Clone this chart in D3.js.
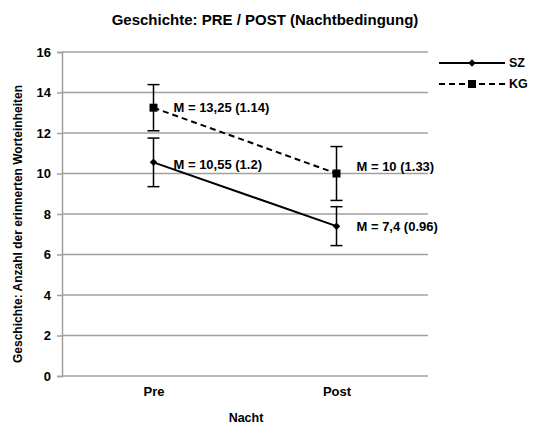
<!DOCTYPE html>
<html>
<head>
<meta charset="utf-8">
<script src="https://cdn.jsdelivr.net/npm/d3@7"></script>
<style>
  html, body { margin: 0; padding: 0; background: #fff; }
  svg text { font-family: "Liberation Sans", Arial, sans-serif; font-weight: bold; fill: #000; }
</style>
</head>
<body>
<svg id="chart" width="535" height="426"></svg>
<script>
// Nights (x categories)
const categories = ["Pre", "Post"];
// Group names
const seriesNames = ["SZ", "KG"];
// Mean recalled word units per group and night
const szMeans = [10.55, 7.4];
const kgMeans = [13.25, 10];
// Standard deviations (error bars)
const szSD = [1.2, 0.96];
const kgSD = [1.14, 1.33];
// Value labels
const szLabels = ["M = 10,55 (1.2)", "M = 7,4 (0.96)"];
const kgLabels = ["M = 13,25 (1.14)", "M = 10 (1.33)"];
// Y axis ticks
const yTicks = [0, 2, 4, 6, 8, 10, 12, 14, 16];

const svg = d3.select("#chart");
const plot = { left: 62, right: 428, top: 52, bottom: 376 };

const x = d3.scalePoint().domain(categories).range([plot.left, plot.right]).padding(0.5);
const y = d3.scaleLinear().domain([0, 16]).range([plot.bottom, plot.top]);

const gridColor = "#a0a0a0";
const font = "Liberation Sans, Arial, sans-serif";

// Horizontal gridlines
svg.append("g").selectAll("line").data(yTicks.filter(d => d > 0)).join("line")
  .attr("x1", plot.left).attr("x2", plot.right)
  .attr("y1", d => y(d)).attr("y2", d => y(d))
  .attr("stroke", gridColor).attr("stroke-width", 1.5);

// Y axis
const yAxis = svg.append("g").attr("transform", `translate(${plot.left},0)`)
  .call(d3.axisLeft(y).tickValues(yTicks).tickSize(5).tickPadding(6));
yAxis.select(".domain").attr("stroke", gridColor).attr("stroke-width", 1.5);
yAxis.selectAll(".tick line").attr("stroke", gridColor).attr("stroke-width", 1.5);
yAxis.selectAll("text").attr("font-size", 13).attr("font-family", font).attr("font-weight", "bold").attr("fill", "#000");

// X axis
const xAxis = svg.append("g").attr("transform", `translate(0,${plot.bottom})`)
  .call(d3.axisBottom(x).tickSize(0).tickPadding(11));
xAxis.select(".domain").attr("d", `M${plot.left},0H${plot.right}`).attr("stroke", gridColor).attr("stroke-width", 1.5);
xAxis.selectAll("text").attr("font-size", 13).attr("font-family", font).attr("font-weight", "bold").attr("fill", "#000");

// Titles
svg.append("text").attr("x", 265).attr("y", 25).attr("text-anchor", "middle")
  .attr("font-size", 15).text("Geschichte: PRE / POST (Nachtbedingung)");
svg.append("text").attr("x", (plot.left + plot.right) / 2 + 1).attr("y", 422).attr("text-anchor", "middle")
  .attr("font-size", 12.5).text("Nacht");
svg.append("text")
  .attr("transform", `translate(22,${(plot.top + plot.bottom) / 2 + 10}) rotate(-90)`)
  .attr("text-anchor", "middle").attr("font-size", 12)
  .text("Geschichte: Anzahl der erinnerten Worteinheiten");

const series = [
  { name: seriesNames[0], means: szMeans, sd: szSD, labels: szLabels, dash: null, marker: "diamond", labelDy: [2, 0] },
  { name: seriesNames[1], means: kgMeans, sd: kgSD, labels: kgLabels, dash: "6,4", marker: "square", labelDy: [0, -7] }
];

const line = d3.line().x((d, i) => x(categories[i])).y(d => y(d));

function drawMarker(g, type, cx, cy) {
  if (type === "square") {
    g.append("path").attr("d", d3.symbol(d3.symbolSquare, 64)())
      .attr("transform", `translate(${cx},${cy})`).attr("fill", "#000");
  } else {
    g.append("path").attr("d", d3.symbol(d3.symbolDiamond2, 36)())
      .attr("transform", `translate(${cx},${cy})`).attr("fill", "#000");
  }
}

series.forEach(s => {
  const g = svg.append("g");
  // Error bars
  s.means.forEach((m, i) => {
    const cx = x(categories[i]);
    const hi = y(m + s.sd[i]), lo = y(m - s.sd[i]);
    g.append("line").attr("x1", cx).attr("x2", cx).attr("y1", hi).attr("y2", lo)
      .attr("stroke", "#000").attr("stroke-width", 1.5);
    [hi, lo].forEach(yy => g.append("line").attr("x1", cx - 6).attr("x2", cx + 6)
      .attr("y1", yy).attr("y2", yy).attr("stroke", "#000").attr("stroke-width", 1.5));
  });
  // Connecting line
  g.append("path").datum(s.means).attr("d", line).attr("fill", "none")
    .attr("stroke", "#000").attr("stroke-width", 2)
    .attr("stroke-dasharray", s.dash);
  // Markers and value labels
  s.means.forEach((m, i) => {
    const cx = x(categories[i]), cy = y(m);
    drawMarker(g, s.marker, cx, cy);
    g.append("text").attr("x", cx + 20).attr("y", cy + s.labelDy[i]).attr("dy", "0.35em")
      .attr("font-size", 13).text(s.labels[i]);
  });
});

// Legend
const legend = svg.append("g");
series.forEach((s, i) => {
  const ly = 63 + i * 21;
  legend.append("line").attr("x1", 439).attr("x2", 505).attr("y1", ly).attr("y2", ly)
    .attr("stroke", "#000").attr("stroke-width", 2).attr("stroke-dasharray", s.dash);
  drawMarker(legend, s.marker, 472, ly);
  legend.append("text").attr("x", 509).attr("y", ly).attr("dy", "0.35em")
    .attr("font-size", 12.5).text(s.name);
});
</script>
</body>
</html>
